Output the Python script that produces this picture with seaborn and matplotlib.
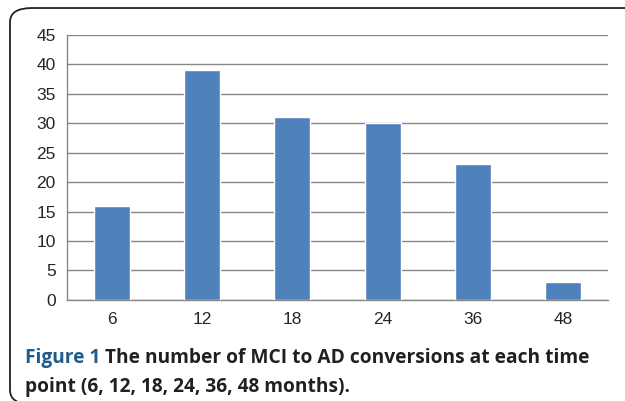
import pandas as pd
import matplotlib.pyplot as plt
import seaborn as sns
from matplotlib.patches import FancyBboxPatch
from matplotlib.ticker import FixedLocator

# Data
months = ['6', '12', '18', '24', '36', '48']
conversions = [16, 39, 31, 30, 23, 3]
y_ticks = [0, 5, 10, 15, 20, 25, 30, 35, 40, 45]

df = pd.DataFrame({'month': months, 'count': conversions})

sns.set_style('white')
plt.rcParams['font.family'] = ['Liberation Sans', 'DejaVu Sans']

fig = plt.figure(figsize=(6.25, 4.01), dpi=100)
ax = fig.add_axes([0.107, 0.252, 0.866, 0.661])

sns.barplot(data=df, x='month', y='count', order=months, color='#4F81BD',
            width=0.4, saturation=1, ax=ax, zorder=3)

ax.set_ylim(0, 45)
ax.set_xlim(-0.5, len(months) - 0.5)
ax.set_yticks(y_ticks)
ax.yaxis.grid(True, color='#888888', linewidth=1, zorder=0)
ax.set_xlabel('')
ax.set_ylabel('')

for s in ['top', 'right']:
    ax.spines[s].set_visible(False)
for s in ['left', 'bottom']:
    ax.spines[s].set_color('#888888')
    ax.spines[s].set_linewidth(1)

ax.tick_params(axis='y', length=5, color='#888888', labelsize=12.5, pad=3)
ax.tick_params(axis='x', which='major', length=0, labelsize=12.5, pad=9)
ax.xaxis.set_minor_locator(FixedLocator([i - 0.5 for i in range(len(months) + 1)]))
ax.tick_params(axis='x', which='minor', length=6, color='#888888', direction='out')

# rounded frame around the figure (bottom and right edges fall outside)
frame = FancyBboxPatch((0.016, -0.008), 1.2, 0.988, transform=fig.transFigure,
                       boxstyle='round,pad=0,rounding_size=0.035',
                       facecolor='none', edgecolor='#222222', linewidth=1.3,
                       clip_on=False)
fig.patches.append(frame)

# caption
cap_font = ['Open Sans', 'DejaVu Sans']
cap_size = 13.8
t1 = fig.text(0.04, 0.095, 'Figure 1 ', fontsize=cap_size, fontweight='bold',
              color='#1F5C8C', family=cap_font, va='baseline')
fig.canvas.draw()
bb = t1.get_window_extent().transformed(fig.transFigure.inverted())
fig.text(bb.x1, 0.095, 'The number of MCI to AD conversions at each time',
         fontsize=cap_size, fontweight='bold', color='#231F20', family=cap_font,
         va='baseline')
fig.text(0.04, 0.023, 'point (6, 12, 18, 24, 36, 48 months).',
         fontsize=cap_size, fontweight='bold', color='#231F20', family=cap_font,
         va='baseline')

fig.savefig('out.png', dpi=100)
